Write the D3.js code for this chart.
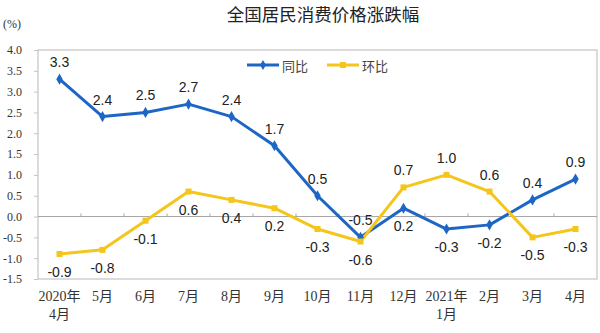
<!DOCTYPE html>
<html>
<head>
<meta charset="utf-8">
<script src="https://cdn.jsdelivr.net/npm/d3@7"></script>
<style>
  html, body { margin: 0; padding: 0; background: #fff; }
  svg { display: block; }
</style>
</head>
<body>
<svg id="chart" width="600" height="333"></svg>
<script>
// Monthly CPI change, April 2020 – April 2021
const months = ["2020年|4月", "5月", "6月", "7月", "8月", "9月", "10月", "11月", "12月", "2021年|1月", "2月", "3月", "4月"];
const yoy = [3.3, 2.4, 2.5, 2.7, 2.4, 1.7, 0.5, -0.5, 0.2, -0.3, -0.2, 0.4, 0.9];   // 同比
const mom = [-0.9, -0.8, -0.1, 0.6, 0.4, 0.2, -0.3, -0.6, 0.7, 1.0, 0.6, -0.5, -0.3]; // 环比
const yTicks = [-1.5, -1.0, -0.5, 0.0, 0.5, 1.0, 1.5, 2.0, 2.5, 3.0, 3.5, 4.0];

const BLUE = "#1d66c6";
const YELLOW = "#f4c51a";
const serif = "'Liberation Serif', 'Times New Roman', 'Noto Sans CJK SC', serif";
const sans = "'Liberation Sans', Arial, 'Noto Sans CJK SC', sans-serif";
const cjk = "'Noto Sans CJK SC', sans-serif";

const svg = d3.select("#chart");
const plotL = 38, plotR = 597, plotT = 50, plotB = 279;

const x = d3.scaleBand().domain(months).range([plotL, plotR]).padding(0);
const cx = d => x(d) + x.bandwidth() / 2;
const y = d3.scaleLinear().domain([-1.5, 4]).range([plotB, plotT]);
const fmt = v => d3.format(".1f")(v).replace("−", "-");

// Title and unit
svg.append("text")
  .attr("x", 323).attr("y", 21)
  .attr("text-anchor", "middle")
  .attr("font-family", cjk).attr("font-size", 17.5).attr("fill", "#222")
  .text("全国居民消费价格涨跌幅");
svg.append("text")
  .attr("x", 3).attr("y", 28)
  .attr("font-family", serif).attr("font-size", 12).attr("fill", "#333")
  .text("(%)");

// Plot frame
svg.append("rect")
  .attr("x", plotL).attr("y", plotT)
  .attr("width", plotR - plotL).attr("height", plotB - plotT)
  .attr("fill", "none").attr("stroke", "#c4c4c4").attr("stroke-width", 1.2);

// Y axis
const yAxis = svg.append("g")
  .attr("transform", `translate(${plotL},0)`)
  .call(d3.axisLeft(y).tickValues(yTicks).tickFormat(fmt).tickSizeInner(4).tickSizeOuter(0).tickPadding(12));
yAxis.select(".domain").remove();
yAxis.selectAll("line").attr("stroke", "#c4c4c4");
yAxis.selectAll("text").attr("font-family", serif).attr("font-size", 12).attr("fill", "#333");

// Zero line with category ticks
svg.append("line")
  .attr("x1", plotL).attr("x2", plotR)
  .attr("y1", y(0)).attr("y2", y(0))
  .attr("stroke", "#a6a6a6").attr("stroke-width", 1);
svg.append("g").selectAll("line")
  .data(months.slice(1))
  .join("line")
  .attr("x1", d => x(d)).attr("x2", d => x(d))
  .attr("y1", y(0)).attr("y2", y(0) - 3)
  .attr("stroke", "#a6a6a6");

// X axis labels (two lines where needed)
const xAxis = svg.append("g")
  .attr("transform", `translate(0,${plotB})`)
  .call(d3.axisBottom(x).tickSize(0).tickPadding(12));
xAxis.select(".domain").remove();
xAxis.selectAll("text")
  .attr("font-family", serif).attr("font-size", 14).attr("fill", "#333")
  .text(null)
  .each(function(d) {
    const parts = d.split("|");
    const t = d3.select(this);
    parts.forEach((p, i) => {
      t.append("tspan").attr("x", 0).attr("dy", i === 0 ? "0.71em" : "1.3em").text(p);
    });
  });

// Series
const series = [
  { name: "同比", values: yoy, color: BLUE, other: mom },
  { name: "环比", values: mom, color: YELLOW, other: yoy }
];
const line = d3.line().x((d, i) => cx(months[i])).y(d => y(d));

series.forEach(s => {
  svg.append("path")
    .datum(s.values)
    .attr("d", line)
    .attr("fill", "none")
    .attr("stroke", s.color)
    .attr("stroke-width", 3)
    .attr("stroke-linejoin", "round");
});

// Markers: diamonds for 同比, small squares for 环比
svg.append("g").selectAll("path")
  .data(yoy)
  .join("path")
  .attr("d", d3.symbol(d3.symbolDiamond, 36))
  .attr("transform", (d, i) => `translate(${cx(months[i])},${y(d)})`)
  .attr("fill", BLUE);
svg.append("g").selectAll("rect")
  .data(mom)
  .join("rect")
  .attr("x", (d, i) => cx(months[i]) - 3)
  .attr("y", d => y(d) - 3)
  .attr("width", 6).attr("height", 6)
  .attr("fill", YELLOW);

// Value labels: the higher series is labelled above, the lower one below
series.forEach(s => {
  svg.append("g").selectAll("text")
    .data(s.values)
    .join("text")
    .attr("x", (d, i) => cx(months[i]))
    .attr("y", (d, i) => y(d) + (d >= s.other[i] ? -17 : 18))
    .attr("dominant-baseline", "central")
    .attr("text-anchor", "middle")
    .attr("font-family", sans).attr("font-size", 14).attr("fill", "#222")
    .text(d => fmt(d));
});

// Legend
const legend = svg.append("g").attr("transform", "translate(247,65)");
series.forEach((s, i) => {
  const g = legend.append("g").attr("transform", `translate(${i * 80},0)`);
  g.append("line").attr("x1", 0).attr("x2", 32).attr("y1", 0).attr("y2", 0)
    .attr("stroke", s.color).attr("stroke-width", 3);
  if (i === 0) {
    g.append("path").attr("d", d3.symbol(d3.symbolDiamond, 30)).attr("transform", "translate(16,0)").attr("fill", s.color);
  } else {
    g.append("rect").attr("x", 13).attr("y", -3).attr("width", 6).attr("height", 6).attr("fill", s.color);
  }
  g.append("text").attr("x", 35).attr("y", 0)
    .attr("dominant-baseline", "central")
    .attr("font-family", cjk).attr("font-size", 13).attr("fill", "#444")
    .text(s.name);
});
</script>
</body>
</html>
